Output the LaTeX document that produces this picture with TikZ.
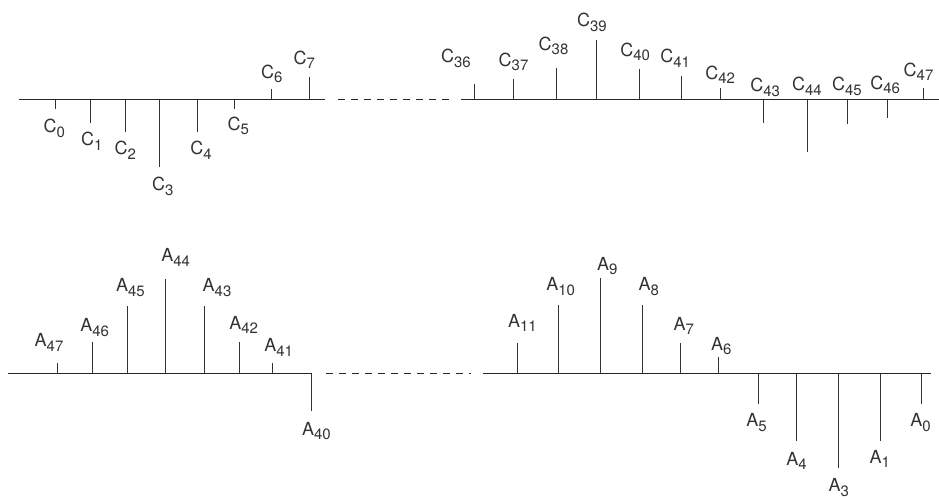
\documentclass[tikz,border=0pt]{standalone}
\usepackage{fontspec}
\setmainfont{TeX Gyre Heros}
\newcommand{\lbl}[2]{#1\raisebox{-2.2pt}{\fontsize{7.5}{8}\selectfont #2}}
\begin{document}
\begin{tikzpicture}[x=0.5pt,y=-0.5pt,
  axis/.style={line width=0.65pt,draw=black!85},
  dots/.style={line width=0.65pt,draw=black!85,dash pattern=on 3.5pt off 3pt},
  tick/.style={line width=0.7pt,draw=black!80},
  lab/.style={anchor=base west,inner sep=0pt,font=\fontsize{9}{10}\selectfont,text=black!80}]
\useasboundingbox (0,0) rectangle (939,498);
% top row axes
\coordinate (tl0) at (19,99.5); \coordinate (tl1) at (325,99.5);
\coordinate (td0) at (338,99.5); \coordinate (td1) at (452,99.5);
\coordinate (tr0) at (461,99.5); \coordinate (tr1) at (939,99.5);
\draw[axis] (tl0) -- (tl1);
\draw[dots] (td0) -- (td1);
\draw[axis] (tr0) -- (tr1);
% bottom row axes
\coordinate (bl0) at (8,373.5); \coordinate (bl1) at (312,373.5);
\coordinate (bd0) at (326,373.5); \coordinate (bd1) at (471,373.5);
\coordinate (br0) at (483,373.5); \coordinate (br1) at (931,373.5);
\draw[axis] (bl0) -- (bl1);
\draw[dots] (bd0) -- (bd1);
\draw[axis] (br0) -- (br1);
% C coefficients
\foreach \s/\x/\t/\lx/\ly in {0/55.3/109.3/43.3/133, 1/90/122.7/80.7/145.7, 2/125/131.7/114.3/155,
  3/159.3/166.7/151.7/190.7, 4/197/131.7/190/155, 5/234/109.3/227.3/130, 6/271.7/89.3/260.7/78.3,
  7/309.3/76.7/293.3/64,
  36/474/84.3/440.7/62.7, 37/513.7/79/498.3/66, 38/556/68.3/538.3/50, 39/596/40/576.7/26.7,
  40/639.3/69/620/56, 41/681.7/76.3/660/62.7, 42/720.7/87.7/705/79.3, 43/763.7/123.3/750/91.7,
  44/807.7/151.7/791.7/90.7, 45/847.7/124/831.7/90.7, 46/887.7/118.3/870/89.3, 47/923.3/88.3/903.3/76}{
  \pgfmathsetmacro{\xx}{floor(\x)+0.5}
  \coordinate (cb\s) at (\xx,99.5);
  \coordinate (ct\s) at (\xx,\t);
  \draw[tick] (cb\s) -- (ct\s);
  \node[lab] (c\s) at (\lx,\ly) {\lbl{C}{\s}};
}
% A coefficients
\foreach \s/\x/\t/\lx/\ly in {47/57.3/363.3/34.3/346.7, 46/92.3/341.7/80/331.7, 45/127/306/115.7/291.7,
  44/165.7/279/161/261.7, 43/204/306/202.3/291.7, 42/239/341.7/229/329, 41/272.3/363.3/264/351.7,
  40/311/411/301.7/435,
  11/517.7/342.7/507.7/327.3, 10/558/305/546/290.7, 9/600.3/277.7/596.7/270, 8/642.7/305/638.3/290.7,
  7/680.7/342.7/673.3/330, 6/718.7/357.3/710.7/350, 5/758.7/404/746/426.7, 4/796.7/441/786/465,
  3/838.3/468.3/828.3/491.7, 1/880/441/869.3/463.3, 0/921.7/404/910/426.7}{
  \pgfmathsetmacro{\xx}{floor(\x)+0.5}
  \coordinate (ab\s) at (\xx,373.5);
  \coordinate (at\s) at (\xx,\t);
  \draw[tick] (ab\s) -- (at\s);
  \node[lab] (a\s) at (\lx,\ly) {\lbl{A}{\s}};
}
\end{tikzpicture}
\end{document}
